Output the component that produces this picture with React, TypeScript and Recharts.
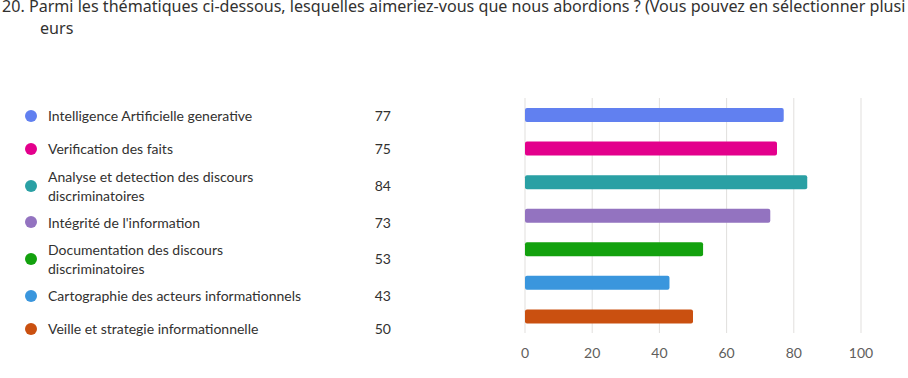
import React from 'react';
import {BarChart, Bar, Cell, XAxis, YAxis, CartesianGrid} from 'recharts';

// Data
const categories = [
  'Intelligence Artificielle generative',
  'Verification des faits',
  'Analyse et detection des discours discriminatoires',
  "Intégrité de l'information",
  'Documentation des discours discriminatoires',
  'Cartographie des acteurs informationnels',
  'Veille et strategie informationnelle',
];
const counts = [77, 75, 84, 73, 53, 43, 50];
const colors = ['#6180f0', '#e3008c', '#2aa0a4', '#9373c0', '#13a10e', '#3a96dd', '#ca5010'];
const xTicks = [0, 20, 40, 60, 80, 100];

const titleLine1 =
  '20. Parmi les thématiques ci-dessous, lesquelles aimeriez-vous que nous abordions ? (Vous pouvez en sélectionner plusi';
const titleLine2 = 'eurs';

const FONT = '"Segoe UI", Lato, "Noto Sans", sans-serif';
const TITLE_FONT = '"Segoe UI", "Noto Sans", sans-serif';
const TEXT = '#323130';

export default function App() {
  const data = categories.map((name, i) => ({name, value: counts[i]}));

  return (
    <div
      style={{
        position: 'absolute',
        left: 0,
        top: 0,
        width: 908,
        height: 378,
        overflow: 'hidden',
        background: '#fff',
        fontFamily: FONT,
        color: TEXT,
      }}>
      {/* question title, cut off at the top like the screenshot */}
      <div
        style={{
          position: 'absolute',
          left: 2,
          top: -6,
          fontFamily: TITLE_FONT,
          fontSize: 16.1,
          whiteSpace: 'nowrap',
          lineHeight: '24px',
        }}>
        {titleLine1}
      </div>
      <div style={{position: 'absolute', left: 40, top: 16, fontFamily: TITLE_FONT, fontSize: 16.1, lineHeight: '24px'}}>
        {titleLine2}
      </div>

      {/* legend list with counts */}
      <div style={{position: 'absolute', left: 0, top: 99, width: 420}}>
        {data.map((d, i) => (
          <div
            key={d.name}
            style={{
              position: 'relative',
              boxSizing: 'border-box',
              minHeight: 33.3,
              padding: '1px 0',
              display: 'flex',
              alignItems: 'center',
            }}>
            <span
              style={{
                position: 'absolute',
                left: 25,
                width: 12,
                height: 12,
                borderRadius: 6,
                background: colors[i],
              }}
            />
            <span style={{marginLeft: 48, width: 262, fontSize: 14, lineHeight: '19px'}}>{d.name}</span>
            <span style={{position: 'absolute', left: 340, width: 51, textAlign: 'right', fontSize: 14}}>
              {d.value}
            </span>
          </div>
        ))}
      </div>

      {/* bar chart */}
      <div style={{position: 'absolute', left: 500, top: 90}}>
        <BarChart
          width={400}
          height={280}
          layout='vertical'
          data={data}
          margin={{top: 8, right: 39, left: 25, bottom: 0}}>
          <CartesianGrid horizontal={false} stroke='#e1dfdd' strokeWidth={1} />
          <XAxis
            type='number'
            domain={[0, 100]}
            ticks={xTicks}
            axisLine={false}
            tickLine={false}
            height={37}
            tickMargin={9}
            tick={{fill: '#605e5c', fontSize: 14, fontFamily: FONT}}
          />
          <YAxis
            type='category'
            dataKey='name'
            width={0}
            tick={false}
            tickLine={false}
            axisLine={{stroke: '#c8c6c4'}}
          />
          <Bar dataKey='value' barSize={14} radius={2} isAnimationActive={false}>
            {data.map((_, i) => (
              <Cell key={`cell-${i}`} fill={colors[i]} />
            ))}
          </Bar>
        </BarChart>
      </div>
    </div>
  );
}
